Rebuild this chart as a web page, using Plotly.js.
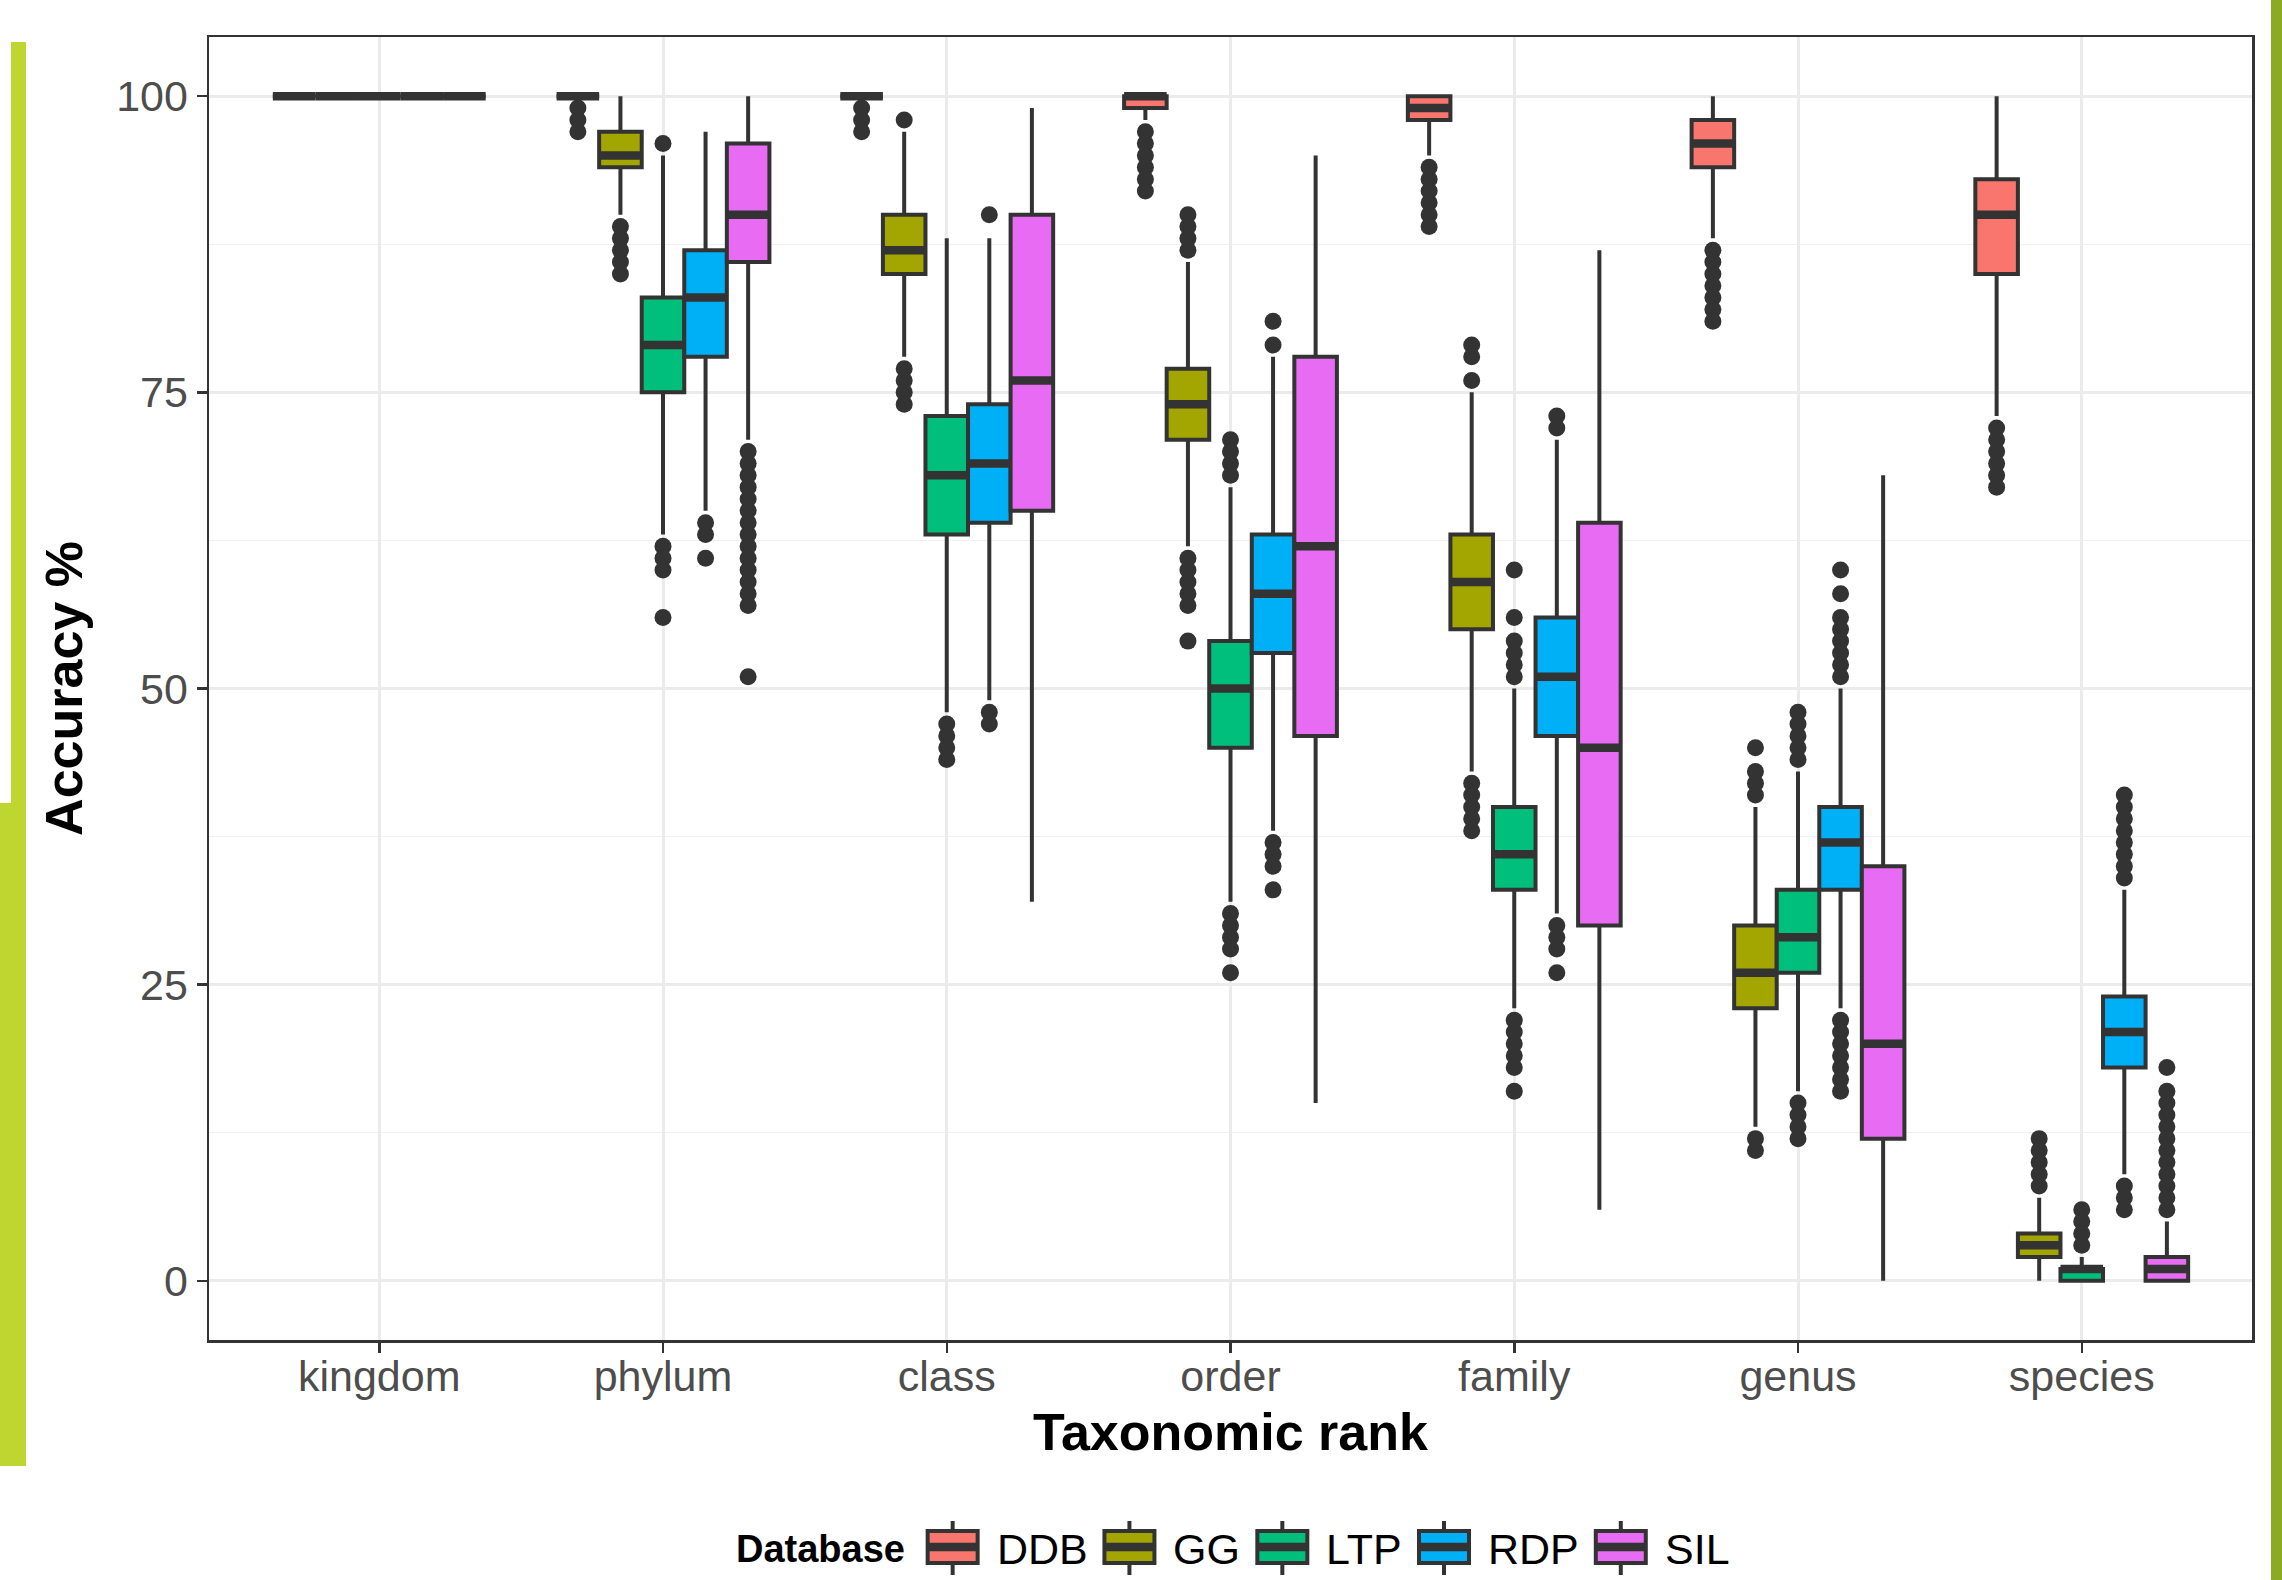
<!DOCTYPE html>
<html>
<head>
<meta charset="utf-8">
<script src="https://cdn.plot.ly/plotly-3.0.1.min.js"></script>
<style>
html,body{margin:0;padding:0;background:#ffffff;}
#chart{width:2282px;height:1580px;}
</style>
</head>
<body>
<div id="chart"></div>
<script>
// ---------------- DATA ----------------
const categories = ['kingdom','phylum','class','order','family','genus','species'];
const databases  = ['DDB','GG','LTP','RDP','SIL'];
const yTicks     = [0,25,50,75,100];

// one value per taxonomic rank (kingdom ... species)
const DDB_q1       = [100,100,100, 99, 98, 94, 85];
const DDB_median   = [100,100,100,100, 99, 96, 90];
const DDB_q3       = [100,100,100,100,100, 98, 93];
const DDB_lower    = [100,100,100, 98, 95, 88, 73];
const DDB_upper    = [100,100,100,100,100,100,100];
const DDB_outliers = [[],[99,98,97],[99,98,97],[97,96,95,94,93,92],[94,93,92,91,90,89],[87,86,85,84,83,82,81],[72,71,70,69,68,67]];

const GG_q1       = [100, 94, 85, 71, 55, 23, 2];
const GG_median   = [100, 95, 87, 74, 59, 26, 3];
const GG_q3       = [100, 97, 90, 77, 63, 30, 4];
const GG_lower    = [100, 90, 78, 62, 43, 13, 0];
const GG_upper    = [100,100, 97, 86, 75, 40, 7];
const GG_outliers = [[],[89,88,87,86,85],[98,77,76,75,74],[90,89,88,87,61,60,59,58,57,54],[79,78,76,42,41,40,39,38],[45,43,42,41,12,11],[12,11,10,9,8]];

const LTP_q1       = [100, 75, 63, 45, 33, 26, 0];
const LTP_median   = [100, 79, 68, 50, 36, 29, 1];
const LTP_q3       = [100, 83, 73, 54, 40, 33, 1];
const LTP_lower    = [100, 63, 48, 32, 23, 16, 0];
const LTP_upper    = [100, 95, 88, 67, 50, 43, 2];
const LTP_outliers = [[],[96,62,61,60,56],[47,46,45,44],[71,70,69,68,31,30,29,28,26],[60,56,54,53,52,51,22,21,20,19,18,16],[48,47,46,45,44,15,14,13,12],[6,5,4,3]];

const RDP_q1       = [100, 78, 64, 53, 46, 33, 18];
const RDP_median   = [100, 83, 69, 58, 51, 37, 21];
const RDP_q3       = [100, 87, 74, 63, 56, 40, 24];
const RDP_lower    = [100, 65, 49, 38, 31, 23, 9];
const RDP_upper    = [100, 97, 88, 78, 71, 50, 33];
const RDP_outliers = [[],[64,63,61],[90,48,47],[81,79,37,36,35,33],[73,72,30,29,28,26],[60,58,56,55,54,53,52,51,22,21,20,19,18,17,16],[41,40,39,38,37,36,35,34,8,7,6]];

const SIL_q1       = [100, 86, 65, 46, 30, 12, 0];
const SIL_median   = [100, 90, 76, 62, 45, 20, 1];
const SIL_q3       = [100, 96, 90, 78, 64, 35, 2];
const SIL_lower    = [100, 71, 32, 15, 6, 0, 0];
const SIL_upper    = [100,100, 99, 95, 87, 68, 5];
const SIL_outliers = [[],[70,69,68,67,66,65,64,63,62,61,60,59,58,57,51],[],[],[],[],[18,16,15,14,13,12,11,10,9,8,7,6]];

// ---------------- STYLE ----------------
const COLORS = {DDB:'#F8766D', GG:'#A3A500', LTP:'#00BF7D', RDP:'#00B0F6', SIL:'#E76BF3'};
const INK = '#333333';
const FONT = '"Liberation Sans", Arial, Helvetica, sans-serif';
const W = 2282, H = 1580;
const M = {l:209, r:30, t:37, b:240};
const PW = W - M.l - M.r, PH = H - M.t - M.b;
const px = x => (x - M.l) / PW;          // page pixel -> paper x
const py = y => (H - M.b - y) / PH;      // page pixel -> paper y

const series = {
  DDB:{q1:DDB_q1, median:DDB_median, q3:DDB_q3, lower:DDB_lower, upper:DDB_upper, out:DDB_outliers},
  GG: {q1:GG_q1,  median:GG_median,  q3:GG_q3,  lower:GG_lower,  upper:GG_upper,  out:GG_outliers},
  LTP:{q1:LTP_q1, median:LTP_median, q3:LTP_q3, lower:LTP_lower, upper:LTP_upper, out:LTP_outliers},
  RDP:{q1:RDP_q1, median:RDP_median, q3:RDP_q3, lower:RDP_lower, upper:RDP_upper, out:RDP_outliers},
  SIL:{q1:SIL_q1, median:SIL_median, q3:SIL_q3, lower:SIL_lower, upper:SIL_upper, out:SIL_outliers}
};

const DODGE = 0.75;
const BOXW = DODGE / databases.length;
const LINE_W = 4, MED_W = 8.5;

const boxTraces = [], medianTraces = [], outlierTraces = [];
databases.forEach((db, j) => {
  const s = series[db];
  const off = -DODGE/2 + BOXW*(j + 0.5);
  const xs = categories.map((c, i) => i + off);
  boxTraces.push({
    type:'box', name:db, x:xs,
    q1:s.q1, median:s.median, q3:s.q3, lowerfence:s.lower, upperfence:s.upper,
    width:BOXW, fillcolor:COLORS[db], line:{color:INK, width:LINE_W},
    whiskerwidth:0, boxpoints:false, showlegend:false, hoverinfo:'skip'
  });
  const mx = [], my = [];
  xs.forEach((x, i) => { mx.push(x - BOXW/2, x + BOXW/2, null); my.push(s.median[i], s.median[i], null); });
  medianTraces.push({type:'scatter', mode:'lines', x:mx, y:my, line:{color:INK, width:MED_W},
    showlegend:false, hoverinfo:'skip'});
  const ox = [], oy = [];
  s.out.forEach((arr, i) => arr.forEach(v => { ox.push(xs[i]); oy.push(v); }));
  outlierTraces.push({type:'scatter', mode:'markers', x:ox, y:oy,
    marker:{color:INK, size:17, line:{width:0}}, showlegend:false, hoverinfo:'skip'});
});

// ---------------- LEGEND (built from series names/colours) ----------------
const ctx = document.createElement('canvas').getContext('2d');
function textW(t, size, weight){ ctx.font = weight + ' ' + size + 'px "Liberation Sans", Arial, sans-serif'; return ctx.measureText(t).width; }
const LEG_Y = 1547, TITLE_SIZE = 38, LABEL_SIZE = 43;
const titleW = textW('Database', TITLE_SIZE, 'bold');
const labW = databases.map(d => textW(d, LABEL_SIZE, 'normal'));
const TITLE_TO_KEY = 50, KEY_TO_TEXT = 42, TEXT_TO_KEY = 44;
let total = titleW + TITLE_TO_KEY;
databases.forEach((d, j) => { total += KEY_TO_TEXT + labW[j] + (j < databases.length-1 ? TEXT_TO_KEY : 0); });
const legStart = (M.l + PW/2) - total/2;

const shapes = [
  {type:'rect', xref:'paper', yref:'paper', x0:px(11), x1:px(26), y0:py(1466), y1:py(42), fillcolor:'#BED730', line:{width:0}, layer:'above'},
  {type:'rect', xref:'paper', yref:'paper', x0:px(0), x1:px(11), y0:py(1466), y1:py(803), fillcolor:'#BED730', line:{width:0}, layer:'above'},
  {type:'rect', xref:'paper', yref:'paper', x0:px(2271), x1:px(2282), y0:py(1580), y1:py(0), fillcolor:'#8CAA23', line:{width:0}, layer:'above'}
];
const annotations = [
  {xref:'paper', yref:'paper', x:px(legStart), y:py(LEG_Y + 2), xanchor:'left', yanchor:'middle', showarrow:false,
   text:'Database', font:{family:FONT, size:TITLE_SIZE, color:'#000000', weight:'bold'}}
];
let cx = legStart + titleW + TITLE_TO_KEY;
databases.forEach((d, j) => {
  const half = 25;
  shapes.push({type:'line', xref:'paper', yref:'paper', x0:px(cx), x1:px(cx), y0:py(1521), y1:py(1575), line:{color:INK, width:LINE_W}, layer:'above'});
  shapes.push({type:'rect', xref:'paper', yref:'paper', x0:px(cx-half), x1:px(cx+half), y0:py(1563), y1:py(1531), fillcolor:COLORS[d], line:{color:INK, width:LINE_W}, layer:'above'});
  shapes.push({type:'line', xref:'paper', yref:'paper', x0:px(cx-half), x1:px(cx+half), y0:py(LEG_Y), y1:py(LEG_Y), line:{color:INK, width:MED_W}, layer:'above'});
  const tl = cx + KEY_TO_TEXT;
  annotations.push({xref:'paper', yref:'paper', x:px(tl), y:py(LEG_Y + 2), xanchor:'left', yanchor:'middle', showarrow:false,
    text:d, font:{family:FONT, size:LABEL_SIZE, color:'#000000'}});
  cx = tl + labW[j] + TEXT_TO_KEY;
});

// ---------------- LAYOUT ----------------
const layout = {
  width:W, height:H,
  margin:{l:M.l, r:M.r, t:M.t, b:M.b, pad:0},
  paper_bgcolor:'#ffffff', plot_bgcolor:'#ffffff',
  showlegend:false,
  boxmode:'overlay',
  font:{family:FONT, color:'#4D4D4D'},
  xaxis:{
    type:'linear', range:[-0.6, 6.6], autorange:false,
    tickmode:'array', tickvals:categories.map((c,i)=>i), ticktext:categories,
    showgrid:true, gridcolor:'#EBEBEB', gridwidth:3, zeroline:false,
    showline:true, mirror:true, linecolor:INK, linewidth:2.5,
    ticks:'outside', ticklen:10, tickwidth:2.5, tickcolor:INK,
    ticklabelstandoff:-13,
    tickfont:{family:FONT, size:43, color:'#4D4D4D'},
    title:{text:'Taxonomic rank', font:{family:FONT, size:52, color:'#000000', weight:'bold'}, standoff:15},
    automargin:false, fixedrange:true
  },
  yaxis:{
    range:[-5, 105], autorange:false,
    tickmode:'array', tickvals:yTicks, ticktext:yTicks.map(String),
    minor:{tickmode:'array', tickvals:[12.5,37.5,62.5,87.5], showgrid:true, gridcolor:'#F0F0F0', gridwidth:1.5, ticks:''},
    showgrid:true, gridcolor:'#EBEBEB', gridwidth:3, zeroline:false,
    showline:true, mirror:true, linecolor:INK, linewidth:2.5,
    ticks:'outside', ticklen:10, tickwidth:2.5, tickcolor:INK,
    tickfont:{family:FONT, size:43, color:'#4D4D4D'},
    title:{text:'Accuracy %', font:{family:FONT, size:52, color:'#000000', weight:'bold'}, standoff:17},
    automargin:false, fixedrange:true
  },
  shapes:shapes,
  annotations:annotations
};

Plotly.newPlot('chart', boxTraces.concat(medianTraces, outlierTraces), layout, {staticPlot:true, displayModeBar:false});
</script>
</body>
</html>
